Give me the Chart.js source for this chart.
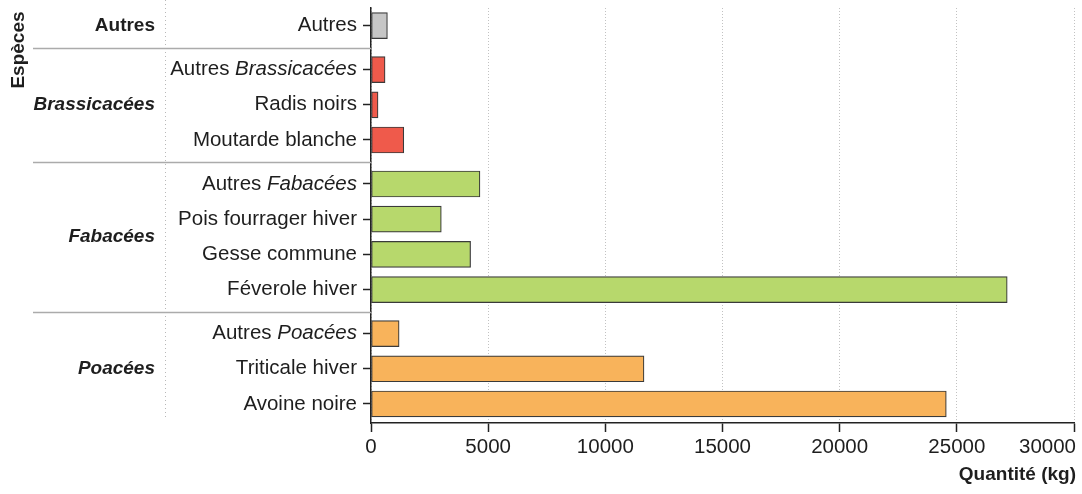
<!DOCTYPE html>
<html>
<head>
<meta charset="utf-8">
<script src="https://cdn.jsdelivr.net/npm/chart.js@4/dist/chart.umd.min.js"></script>
<style>
  html, body { margin: 0; padding: 0; background: #fff; }
  canvas { display: block; }
</style>
</head>
<body>
<canvas id="chart" width="1082" height="494"></canvas>
<script>
'use strict';

// Data
var groups = ['Autres', 'Brassicacées', 'Fabacées', 'Poacées'];
var categories = [
  'Autres',
  'Autres Brassicacées', 'Radis noirs', 'Moutarde blanche',
  'Autres Fabacées', 'Pois fourrager hiver', 'Gesse commune', 'Féverole hiver',
  'Autres Poacées', 'Triticale hiver', 'Avoine noire'
];
var categoryGroup = [0, 1, 1, 1, 2, 2, 2, 2, 3, 3, 3];
var quantities = [700, 600, 300, 1400, 4650, 3000, 4250, 27150, 1200, 11650, 24550];
var xTicks = [0, 5000, 10000, 15000, 20000, 25000, 30000];

var groupColors = ['#c6c6c6', '#ef5a4b', '#b7d86c', '#f8b35b'];
var textColor = '#1e1e1e';
var regFont = '20.5px "Liberation Sans", Arial, sans-serif';
var itFont = 'italic 20.5px "Liberation Sans", Arial, sans-serif';
var boldFont = 'bold 19px "Liberation Sans", Arial, sans-serif';
var boldItFont = 'italic bold 19px "Liberation Sans", Arial, sans-serif';

// rows of one family sit together, with a small gap between families
var rowPos = categories.map(function(c, i) { return i + categoryGroup[i] * 0.25; });

function groupRows(g) {
  return rowPos.filter(function(p, i) { return categoryGroup[i] === g; });
}

var labelsPlugin = {
  id: 'labels',
  afterDraw: function(chart) {
    var ctx = chart.ctx;
    var y = chart.scales.y, x = chart.scales.x;
    var area = chart.chartArea;
    ctx.save();
    ctx.fillStyle = textColor;
    ctx.textBaseline = 'middle';

    // dotted separator between family and species columns
    ctx.strokeStyle = '#b8b8b8';
    ctx.lineWidth = 1;
    ctx.setLineDash([1, 3]);
    ctx.beginPath();
    ctx.moveTo(165.5, 0);
    ctx.lineTo(165.5, 420);
    ctx.stroke();
    ctx.setLineDash([]);

    // separators between families
    ctx.strokeStyle = '#ababab';
    ctx.lineWidth = 1.5;
    for (var g = 0; g < groups.length - 1; g++) {
      var a = groupRows(g), b = groupRows(g + 1);
      var py = Math.round(y.getPixelForValue((a[a.length - 1] + b[0]) / 2)) + 0.5;
      ctx.beginPath();
      ctx.moveTo(33, py);
      ctx.lineTo(area.left, py);
      ctx.stroke();
    }

    // species labels, family name in italic
    ctx.textAlign = 'right';
    categories.forEach(function(label, i) {
      var g = categoryGroup[i];
      var gname = groups[g];
      var py = y.getPixelForValue(rowPos[i]);
      var right = area.left - 14;
      var k = g > 0 ? label.indexOf(gname) : -1;
      if (k > 0) {
        var head = label.slice(0, k), tail = label.slice(k);
        ctx.font = itFont;
        ctx.fillText(tail, right, py);
        var w = ctx.measureText(tail).width;
        ctx.font = regFont;
        ctx.fillText(head, right - w, py);
      } else {
        ctx.font = regFont;
        ctx.fillText(label, right, py);
      }
    });

    // family labels
    groups.forEach(function(name, g) {
      var rows = groupRows(g);
      var mid = (rows[0] + rows[rows.length - 1]) / 2;
      ctx.font = g > 0 ? boldItFont : boldFont;
      ctx.fillText(name, 155, y.getPixelForValue(mid));
    });

    // x tick labels
    ctx.font = regFont;
    xTicks.forEach(function(v, i) {
      var px = x.getPixelForValue(v);
      if (i === xTicks.length - 1) {
        ctx.textAlign = 'right';
        ctx.fillText(String(v), px + 2, 447);
      } else {
        ctx.textAlign = 'center';
        ctx.fillText(String(v), px, 447);
      }
    });

    // axis titles
    ctx.font = boldFont;
    ctx.textAlign = 'right';
    ctx.fillText('Quantité (kg)', area.right + 2, 475);

    ctx.translate(19, 50);
    ctx.rotate(-Math.PI / 2);
    ctx.textAlign = 'center';
    ctx.fillText('Espèces', 0, 0);
    ctx.restore();
  }
};

new Chart(document.getElementById('chart'), {
  type: 'bar',
  data: {
    datasets: [{
      data: quantities.map(function(q, i) { return { x: q, y: rowPos[i] }; }),
      backgroundColor: categoryGroup.map(function(g) { return groupColors[g]; }),
      borderColor: '#3a3a3a',
      borderWidth: 1.2,
      borderSkipped: false,
      barThickness: 26
    }]
  },
  options: {
    indexAxis: 'y',
    responsive: false,
    animation: false,
    devicePixelRatio: 1,
    layout: { padding: { top: 8, right: 8, left: 0, bottom: 0 } },
    plugins: { legend: { display: false }, tooltip: { enabled: false } },
    scales: {
      x: {
        type: 'linear',
        min: 0, max: 30000,
        afterBuildTicks: function(s) { s.ticks = xTicks.map(function(v) { return { value: v }; }); },
        afterFit: function(s) { s.height = 71; },
        ticks: { display: false },
        grid: { color: '#c2c2c2', lineWidth: 1, tickColor: '#222', tickLength: 9, tickWidth: 1.5 },
        border: { display: true, color: '#222', width: 1.5, dash: [1, 2] }
      },
      y: {
        type: 'linear',
        reverse: true,
        offset: false,
        min: -0.5, max: 11.29,
        afterBuildTicks: function(s) { s.ticks = rowPos.map(function(v) { return { value: v }; }); },
        afterFit: function(s) { s.width = 371; },
        ticks: { display: false },
        grid: { offset: false, drawOnChartArea: false, tickColor: '#222', tickLength: 8, tickWidth: 1.5 },
        border: { display: true, color: '#222', width: 1.5 }
      }
    }
  },
  plugins: [labelsPlugin]
});
</script>
</body>
</html>
